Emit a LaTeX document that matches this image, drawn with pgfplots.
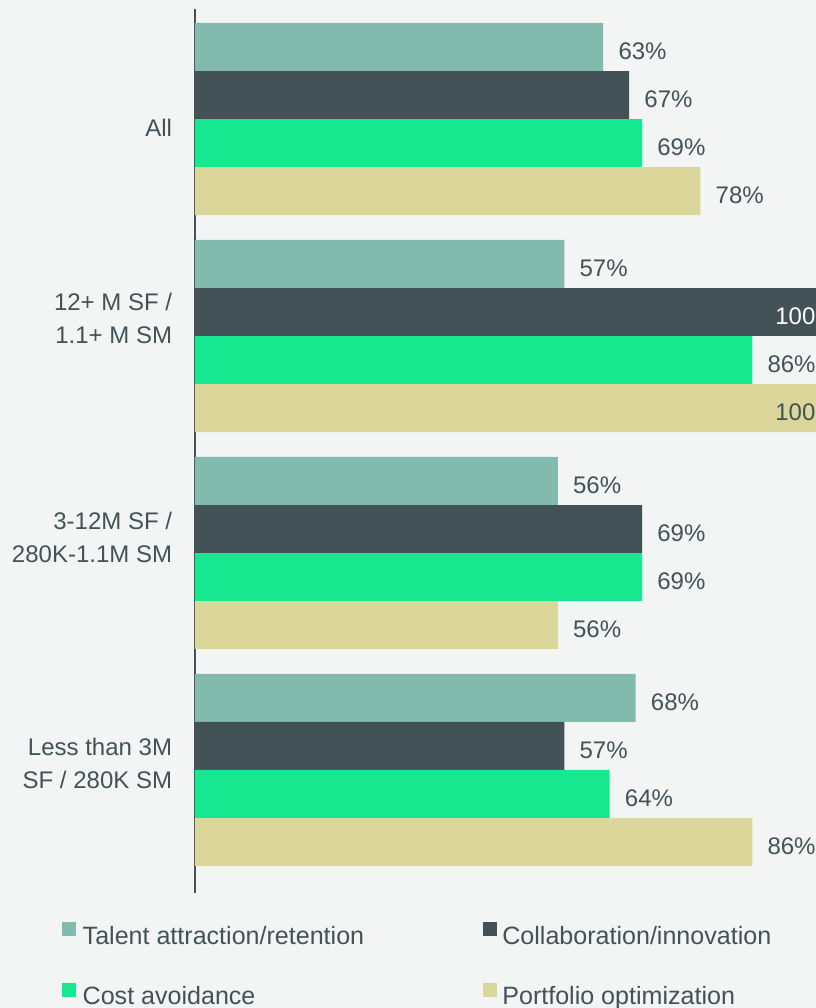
\documentclass[border=0pt]{standalone}
\usepackage{fontspec}
\setmainfont{Liberation Sans}
\usepackage{pgfplots}
\pgfplotsset{compat=1.18}
\definecolor{bgc}{HTML}{F3F5F5}
\definecolor{cTalent}{HTML}{82BBAD}
\definecolor{cCollab}{HTML}{435257}
\definecolor{cCost}{HTML}{17E88F}
\definecolor{cPort}{HTML}{DBD79B}
\definecolor{cText}{HTML}{435257}
\pgfplotsset{
  sqlegend/.style={legend image code/.code={\fill[##1] (0pt,1.5pt) rectangle (10.5pt,12pt);}},
  vallab/.style={draw=none, mark=none, forget plot,
    nodes near coords, point meta=explicit symbolic,
    every node near coord/.append style={anchor=west, xshift=11.25pt, yshift=-3.5pt, inner sep=0pt,
      text=cText, font=\fontsize{18}{20}\selectfont}},
  inlab/.style={draw=none, mark=none, forget plot,
    nodes near coords, point meta=explicit symbolic,
    every node near coord/.append style={anchor=east, xshift=-4.5pt, yshift=-3.5pt, inner sep=0pt,
      text=#1, font=\fontsize{18}{20}\selectfont}},
}
\begin{document}
\begin{tikzpicture}[x=1pt,y=1pt]
\fill[bgc] (0,0) rectangle (612,756);
\begin{axis}[
  at={(146.25pt,86.25pt)}, anchor=south west,
  scale only axis, width=486pt, height=663pt,
  xmin=0, xmax=100, ymin=-0.567, ymax=3.507,
  axis x line=none, axis y line=left,
  axis line style={-, draw=cText, line width=2pt},
  ytick={0.032,1.074,2.083,2.959},
  yticklabels={{Less than 3M\\SF / 280K SM},{3-12M SF /\\280K-1.1M SM},{12+ M SF /\\1.1+ M SM},{All}},
  yticklabel style={align=right, font=\fontsize{18}{24.75}\selectfont, text=cText, inner sep=0pt, xshift=-17pt},
  major tick length=0pt,
  ytick style={draw=none},
  clip=false,
  legend columns=2,
  legend cell align=left,
  legend style={at={(-0.2052,-0.0328)}, anchor=north west, draw=none, fill=none,
    inner sep=0pt, outer sep=0pt, row sep=25pt,
    nodes={inner sep=0pt, text=cText, font=\fontsize{18.8}{20}\selectfont, text height=13pt, text depth=4pt},
    /tikz/every odd column/.append style={column sep=0pt},
    /tikz/every even column/.append style={column sep=0pt}},
]
\addplot[xbar, bar width=0.221, bar shift=0.332, fill=cTalent, draw=none, sqlegend]
  coordinates {(63,3) (57,2) (56,1) (68,0)};
\addlegendentry{\makebox[305.25pt][l]{\hspace{5pt}Talent attraction/retention}}
\addplot[xbar, bar width=0.221, bar shift=0.1106, fill=cCollab, draw=none, sqlegend]
  coordinates {(67,3) (100,2) (69,1) (57,0)};
\addlegendentry{\hspace{4pt}Collaboration/innovation}
\addplot[xbar, bar width=0.221, bar shift=-0.1106, fill=cCost, draw=none, sqlegend]
  coordinates {(69,3) (86,2) (69,1) (64,0)};
\addlegendentry{\makebox[305.25pt][l]{\hspace{5pt}Cost avoidance}}
\addplot[xbar, bar width=0.221, bar shift=-0.332, fill=cPort, draw=none, sqlegend]
  coordinates {(78,3) (100,2) (56,1) (86,0)};
\addlegendentry{\hspace{4pt}Portfolio optimization}

\addplot[vallab] coordinates {(63,3.332) [63\%] (57,2.332) [57\%] (56,1.332) [56\%] (68,0.332) [68\%]};
\addplot[vallab] coordinates {(67,3.1106) [67\%] (69,1.1106) [69\%] (57,0.1106) [57\%]};
\addplot[inlab=white] coordinates {(100,2.1106) [100\%]};
\addplot[vallab] coordinates {(69,2.8894) [69\%] (86,1.8894) [86\%] (69,0.8894) [69\%] (64,-0.1106) [64\%]};
\addplot[vallab] coordinates {(78,2.668) [78\%] (56,0.668) [56\%] (86,-0.332) [86\%]};
\addplot[inlab=cText] coordinates {(100,1.668) [100\%]};
\end{axis}
\pgfresetboundingbox
\useasboundingbox (0,0) rectangle (612,756);
\end{tikzpicture}
\end{document}
